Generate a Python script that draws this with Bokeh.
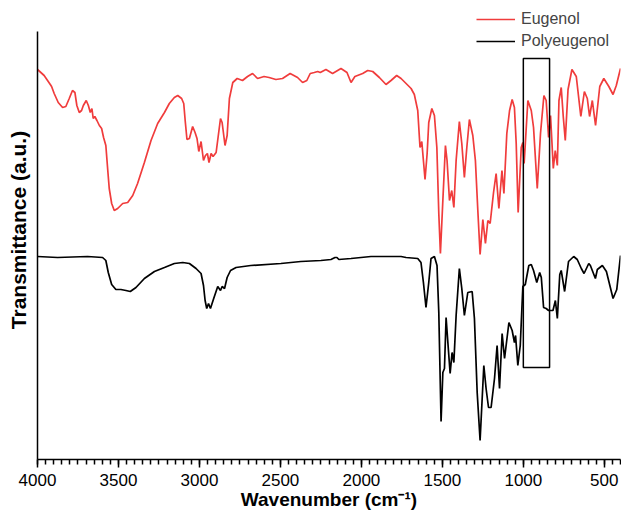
from bokeh.plotting import figure
from bokeh.models import Range1d, FixedTicker, Legend, LegendItem
from bokeh.embed import file_html
from bokeh.resources import INLINE

# ---- data (wavenumber cm-1, transmittance a.u.) ----
eugenol_wn = [4000, 3959, 3921, 3913, 3897, 3872, 3845, 3825, 3804, 3784, 3769, 3757, 3742,
              3728, 3717, 3699, 3686, 3674, 3664, 3656, 3646, 3633, 3618, 3604, 3592, 3578,
              3567, 3557, 3542, 3526, 3505, 3474, 3443, 3412, 3382, 3340, 3299, 3258, 3216,
              3186, 3155, 3134, 3110, 3097, 3087, 3077, 3062, 3042, 3027, 3015, 3004, 2990,
              2975, 2963, 2951, 2941, 2928, 2916, 2897, 2870, 2860, 2842, 2829, 2815, 2794,
              2767, 2734, 2703, 2672, 2641, 2601, 2570, 2528, 2487, 2440, 2394, 2363, 2337,
              2316, 2291, 2270, 2254, 2219, 2178, 2126, 2089, 2064, 2040, 1992, 1961, 1930,
              1889, 1848, 1817, 1782, 1755, 1724, 1693, 1673, 1652, 1638, 1627, 1617, 1607,
              1594, 1584, 1565, 1549, 1534, 1522, 1512, 1497, 1481, 1471, 1456, 1442, 1429,
              1415, 1395, 1380, 1364, 1349, 1333, 1312, 1296, 1281, 1267, 1250, 1234, 1219,
              1205, 1184, 1168, 1151, 1132, 1120, 1102, 1085, 1069, 1055, 1044, 1032, 1013,
              1003, 995, 972, 951, 937, 914, 894, 873, 859, 844, 832, 815, 803, 790, 780,
              766, 753, 741, 724, 700, 673, 645, 623, 605, 591, 574, 554, 528, 503, 472,
              446, 426, 400]
eugenol_t = [390, 384, 375, 373, 366, 357, 352, 353, 361, 369, 367, 354, 347,
             349, 354, 359, 354, 347, 351, 341, 343, 339, 334, 331, 322, 314,
             291, 271, 256, 249, 251, 256, 257, 264, 276, 297, 319, 336, 347,
             356, 362, 364, 361, 356, 337, 320, 321, 333, 327, 321, 308, 318,
             299, 304, 306, 297, 306, 303, 307, 341, 337, 314, 324, 361, 377,
             381, 379, 383, 386, 381, 383, 382, 380, 381, 386, 382, 377, 379,
             386, 387, 388, 387, 390, 386, 391, 387, 377, 383, 386, 389, 388,
             382, 375, 379, 384, 381, 376, 371, 365, 349, 312, 318, 299, 280,
             306, 337, 351, 344, 312, 246, 206, 259, 314, 299, 259, 269, 252,
             299, 338, 316, 282, 312, 340, 324, 299, 249, 205, 240, 216, 239,
             236, 267, 286, 251, 289, 266, 326, 349, 360, 352, 316, 247, 312,
             317, 296, 359, 349, 332, 271, 326, 364, 359, 322, 344, 291, 309, 294, 359,
             372, 342, 319, 370, 390, 383, 343, 368, 361, 343, 359, 334, 373, 381, 373,
             365, 374, 391]

poly_wn = [4000, 3876, 3691, 3598, 3578, 3563, 3542, 3516, 3485, 3454, 3427, 3392, 3340,
           3278, 3216, 3155, 3103, 3062, 3021, 2990, 2975, 2965, 2955, 2944, 2932, 2912,
           2887, 2870, 2860, 2845, 2829, 2808, 2774, 2683, 2497, 2374, 2250, 2188, 2163,
           2151, 2139, 2064, 1941, 1755, 1724, 1652, 1632, 1617, 1601, 1584, 1570, 1549,
           1533, 1522, 1508, 1497, 1487, 1477, 1466, 1452, 1440, 1429, 1415, 1395, 1380,
           1364, 1343, 1316, 1302, 1285, 1267, 1244, 1230, 1215, 1199, 1178, 1162, 1147,
           1131, 1116, 1089, 1069, 1055, 1048, 1034, 1019, 1003, 988, 966, 951, 937, 917,
           899, 889, 875, 859, 844, 817, 802, 790, 775, 766, 745, 721, 689, 667, 642,
           625, 596, 586, 555, 543, 512, 487, 446, 423, 400]
poly_t = [203, 202, 203, 202, 199, 187, 175, 170, 170, 169, 168, 172, 181,
          188, 192, 196, 197, 196, 191, 186, 174, 159, 151, 156, 151, 161,
          173, 169, 173, 171, 182, 189, 192, 194, 196, 198, 199, 200, 202,
          202, 200, 201, 203, 203, 202, 201, 197, 177, 152, 177, 201, 203,
          194, 147, 38, 87, 91, 142, 117, 86, 107, 97, 144, 191, 171,
          144, 167, 168, 141, 67, 19, 94, 71, 52, 52, 81, 114, 71,
          126, 101, 137, 129, 117, 124, 94, 114, 173, 175, 194, 195, 189, 177,
          187, 182, 152, 151, 149, 149, 159, 141, 185, 189, 168, 198, 203, 200, 191,
          186, 196, 194, 181, 190, 194, 188, 161, 170, 204]

# boxed region (wavenumber, transmittance)
box_wn = [1000, 838]
box_t = [92, 401]

x_major_ticks = [4000, 3500, 3000, 2500, 2000, 1500, 1000, 500]
x_minor_ticks = list(range(400, 4001, 50))

series_names = ["Eugenol", "Polyeugenol"]
x_title = "Wavenumber (cm\u207b\u00b9)"
y_title = "Transmittance (a.u.)"
RED = "#f03c3c"
FONT = "Liberation Sans"

p = figure(width=621, height=514, output_backend="svg", toolbar_location=None,
           x_range=Range1d(4000, 400), y_range=Range1d(0, 459),
           min_border_left=37, min_border_right=1, min_border_top=0, min_border_bottom=55)
p.outline_line_color = None
p.xgrid.visible = False
p.ygrid.visible = False
p.background_fill_color = "white"
p.border_fill_color = "white"

r_eug = p.line(eugenol_wn, eugenol_t, line_color=RED, line_width=1.7)
r_poly = p.line(poly_wn, poly_t, line_color="black", line_width=1.7)

p.quad(left=[box_wn[0]], right=[box_wn[1]], bottom=[box_t[0]], top=[box_t[1]],
       fill_alpha=0, line_color="black", line_width=1.5)

# x axis
xa = p.xaxis[0]
xa.ticker = FixedTicker(ticks=x_major_ticks, minor_ticks=x_minor_ticks)
xa.major_tick_out = 8
xa.major_tick_in = 0
xa.minor_tick_out = 5
xa.minor_tick_in = 0
xa.axis_line_width = 1.5
xa.major_tick_line_width = 1.5
xa.minor_tick_line_width = 1.5
xa.major_label_text_font = FONT
xa.major_label_text_font_size = "17px"
xa.major_label_text_color = "black"
xa.major_label_standoff = 6
xa.axis_label = x_title
xa.axis_label_text_font = FONT
xa.axis_label_text_font_size = "19px"
xa.axis_label_text_font_style = "bold"
xa.axis_label_text_color = "black"
xa.axis_label_standoff = 0

# y axis: line only, limited to the plotting height
ya = p.yaxis[0]
ya.ticker = FixedTicker(ticks=[])
ya.bounds = (0, 428)
ya.major_tick_out = 0
ya.major_tick_in = 0
ya.minor_tick_out = 0
ya.minor_tick_in = 0
ya.axis_line_width = 1.5
ya.major_label_text_font_size = "0px"
ya.axis_label = y_title
ya.axis_label_text_font = FONT
ya.axis_label_text_font_size = "21px"
ya.axis_label_text_font_style = "bold"
ya.axis_label_text_color = "black"
ya.axis_label_standoff = 8

legend = Legend(items=[LegendItem(label=series_names[0], renderers=[r_eug]),
                       LegendItem(label=series_names[1], renderers=[r_poly])],
                location=(439, 407), margin=0, padding=0, spacing=0,
                glyph_width=39, glyph_height=22, label_height=22, label_standoff=6,
                label_text_font=FONT, label_text_font_size="16px",
                border_line_color=None, background_fill_alpha=0)
p.add_layout(legend)

open("out.html", "w").write(file_html(p, INLINE))
